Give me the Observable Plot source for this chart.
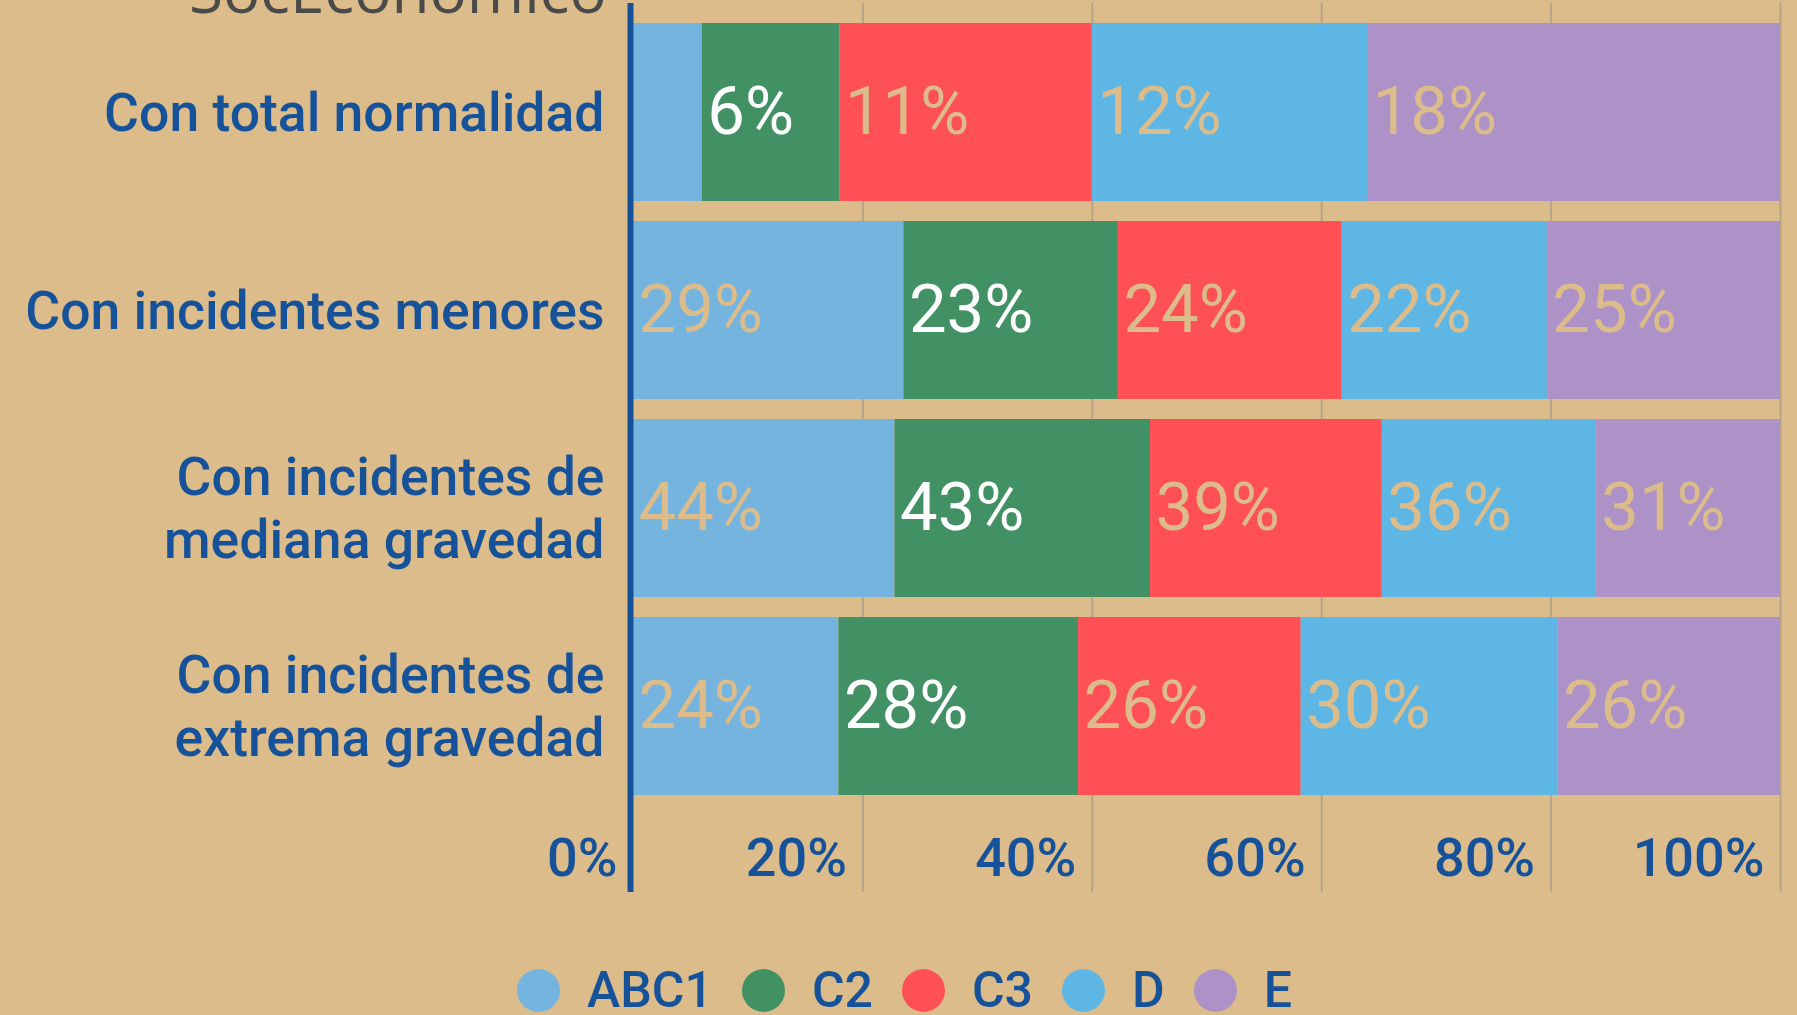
<!DOCTYPE html>
<html>
<head>
<meta charset="utf-8">
<script src="https://cdn.jsdelivr.net/npm/d3@7"></script>
<script src="https://cdn.jsdelivr.net/npm/@observablehq/plot@0.6"></script>
<style>
html, body { margin: 0; padding: 0; background: #DCBC8B; width: 1797px; height: 1015px; overflow: hidden; }
#wrap { position: relative; width: 1797px; height: 1015px; }
#title { position: absolute; left: 189px; top: -42px; font-family: "Open Sans"; font-size: 62px; line-height: 1; color: #4a4a4a; white-space: nowrap; }
.lg-swatches { justify-content: center !important; margin: 69px 0 0 0 !important; font-family: Roboto !important; font-weight: 500 !important; font-size: 50px !important; line-height: 43px !important; color: #15529A !important; gap: 0 29px; padding-left: 12px; min-height: 0 !important; }
.lg-swatch { margin-right: 0 !important; }
.lg-swatch > svg { border-radius: 50% !important; overflow: hidden !important; margin-right: 27px !important; }
</style>
</head>
<body>
<div id="wrap"><div id="title">SocEconómico</div></div>
<script>
const groups = ["ABC1", "C2", "C3", "D", "E"];
const groupColors = ["#76B4E0", "#429164", "#FF5056", "#5EB6E4", "#AC92C6"];
const categories = [
  "Con total normalidad",
  "Con incidentes menores",
  "Con incidentes de mediana gravedad",
  "Con incidentes de extrema gravedad"
];
const categoryLines = [
  "Con total normalidad",
  "Con incidentes menores",
  "Con incidentes de\nmediana gravedad",
  "Con incidentes de\nextrema gravedad"
];
const ABC1 = [3, 29, 44, 24];
const C2 = [6, 23, 43, 28];
const C3 = [11, 24, 39, 26];
const D = [12, 22, 36, 30];
const E = [18, 25, 31, 26];
const xTicks = [0, 0.2, 0.4, 0.6, 0.8, 1];
const xTickLabels = ["0%", "20%", "40%", "60%", "80%", "100%"];

const series = [ABC1, C2, C3, D, E];
const rows = categories.flatMap((c, i) => groups.map((g, j) => ({cat: c, group: g, value: series[j][i]})));

const tan = "#DCBC8B";
const blue = "#15529A";

const chart = Plot.plot({
  width: 1797,
  height: 900,
  marginTop: 3,
  marginRight: 17,
  marginBottom: 8,
  marginLeft: 633,
  style: {background: "transparent", fontFamily: "Roboto", overflow: "visible"},
  x: {domain: [0, 1], label: null},
  y: {domain: categories, padding: 0.1, insetBottom: 77, label: null},
  color: {domain: groups, range: groupColors},
  marks: [
    Plot.gridX(xTicks.slice(1), {stroke: "#B5A488", strokeOpacity: 1, strokeWidth: 2}),
    Plot.barX(rows, {x: "value", y: "cat", fill: "group", offset: "normalize"}),
    Plot.text(rows, Plot.stackX1({
      x: "value", y: "cat", z: "group", offset: "normalize",
      text: d => (d.group !== "C2" && d.value >= 5) ? d.value + "%" : null,
      fill: tan, textAnchor: "start", dx: 5, fontSize: 67, fontWeight: 400
    })),
    Plot.text(rows, Plot.stackX1({
      x: "value", y: "cat", z: "group", offset: "normalize",
      text: d => d.group === "C2" ? d.value + "%" : null,
      fill: "white", textAnchor: "start", dx: 5, fontSize: 67, fontWeight: 400
    })),
    Plot.ruleX([0], {stroke: blue, strokeWidth: 6, dx: -3}),
    Plot.axisX({
      ticks: xTicks,
      tickFormat: d => xTickLabels[xTicks.indexOf(d)],
      tickSize: 0, tickPadding: -55,
      textAnchor: "end", dx: -16,
      fontSize: 54, fontWeight: 500, color: blue
    }),
    Plot.axisY({
      tickSize: 0, tickPadding: 29,
      tickFormat: d => categoryLines[categories.indexOf(d)],
      fontSize: 53.5, fontWeight: 500, lineHeight: 1.18, dy: -2, color: blue
    })
  ]
});

const legend = chart.legend("color", {swatchSize: 43, className: "lg"});
const wrap = document.getElementById("wrap");
wrap.append(chart);
wrap.append(legend);
</script>
</body>
</html>
